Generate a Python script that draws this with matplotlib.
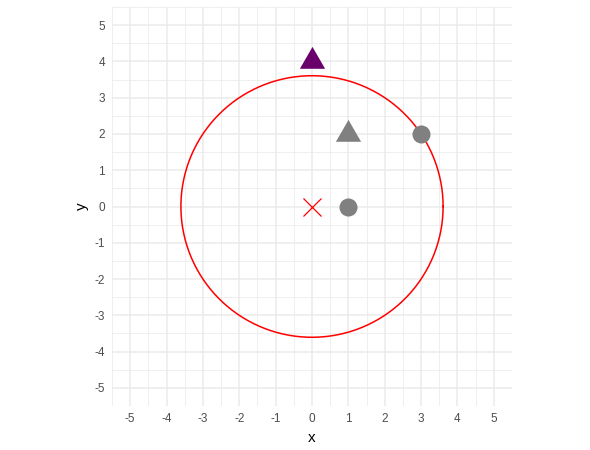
import matplotlib.pyplot as plt
import numpy as np
from matplotlib.ticker import MultipleLocator

plt.rcParams['font.family'] = ['Liberation Sans', 'DejaVu Sans']
plt.rcParams['axes.unicode_minus'] = False

# points (x, y)
circle_x = [1, 3]
circle_y = [0, 2]
tri_x = [1]
tri_y = [2]
top_x = [0]
top_y = [4]
center_x = [0]
center_y = [0]
radius = np.sqrt(13)

# equilateral triangle, like ggplot's shape 17
tri = [(0, 1), (-0.866, -0.5), (0.866, -0.5), (0, 1)]

fig = plt.figure(figsize=(5.9, 4.5), dpi=100)
ax = fig.add_axes([112/590, 1 - 406/450, 400/590, 399/450])

# circle around the centre
t = np.linspace(0, 2*np.pi, 400)
ax.plot(center_x[0] + radius*np.cos(t), center_y[0] + radius*np.sin(t),
        color='#FF0000', lw=1.1, zorder=2)

ax.plot(circle_x, circle_y, 'o', color='#808080', markersize=13, mew=0, zorder=3)
ax.plot(tri_x, tri_y, marker=tri, ls='none', color='#808080', markersize=21, mew=0, zorder=3)
ax.plot(top_x, top_y, marker=tri, ls='none', color='#6A006A', markersize=21, mew=0, zorder=3)
ax.plot(center_x, center_y, 'x', color='#FF0000', markersize=13, mew=0.9, zorder=3)

ax.set_xlim(-5.5, 5.5)
ax.set_ylim(-5.5, 5.5)
ax.xaxis.set_major_locator(MultipleLocator(1))
ax.yaxis.set_major_locator(MultipleLocator(1))
ax.xaxis.set_minor_locator(MultipleLocator(0.5))
ax.yaxis.set_minor_locator(MultipleLocator(0.5))
ax.grid(which='major', color='#EBEBEB', lw=1.1)
ax.grid(which='minor', color='#EBEBEB', lw=0.55)
ax.set_axisbelow(True)
for s in ax.spines.values():
    s.set_visible(False)
ax.tick_params(which='both', length=0, labelsize=8.5, labelcolor='#4D4D4D', pad=5)

ax.set_xlabel('x', fontsize=11, labelpad=4)
ax.set_ylabel('y', fontsize=11, labelpad=4)

fig.savefig('out.png', dpi=100)
